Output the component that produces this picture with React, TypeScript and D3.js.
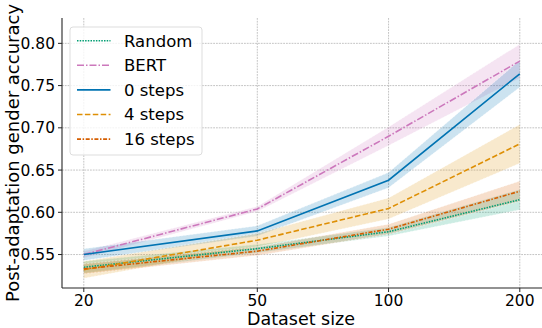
import React from "react";
import * as d3 from "d3";

const sizes = [20, 50, 100, 200];
const seriesNames = ["Random", "BERT", "0 steps", "4 steps", "16 steps"];
const randomMean = [0.535, 0.557, 0.577, 0.615];
const randomLo = [0.528, 0.552, 0.572, 0.603];
const randomHi = [0.542, 0.562, 0.582, 0.627];
const bertMean = [0.55, 0.604, 0.69, 0.779];
const bertLo = [0.546, 0.601, 0.679, 0.759];
const bertHi = [0.554, 0.607, 0.701, 0.799];
const step0Mean = [0.55, 0.578, 0.638, 0.764];
const step0Lo = [0.543, 0.572, 0.629, 0.748];
const step0Hi = [0.557, 0.584, 0.647, 0.78];
const step4Mean = [0.532, 0.567, 0.6045, 0.681];
const step4Lo = [0.522, 0.559, 0.592, 0.658];
const step4Hi = [0.542, 0.575, 0.617, 0.704];
const step16Mean = [0.533, 0.554, 0.58, 0.625];
const step16Lo = [0.527, 0.549, 0.574, 0.613];
const step16Hi = [0.539, 0.559, 0.586, 0.637];
const xTicks = [20, 50, 100, 200];
const yTicks = [0.55, 0.6, 0.65, 0.7, 0.75, 0.8];

const colors = ["#029e73", "#cc78bc", "#0173b2", "#de8f05", "#d55e00"];
const dashes = ["1.5,1.2", "7,2,1.5,2", "", "5.5,2.4", "4,1.6,1.5,1.6"];

const W = 542, H = 328;
const left = 62, top = 18, bottom = 288;
const x = d3.scaleLog().domain([Math.pow(10, Math.log10(20) - 0.05), Math.pow(10, Math.log10(200) + 0.05)]).range([left, 541.6]);
const y = d3.scaleLinear().domain([0.5104, 0.83]).range([bottom, top]);

export default function App() {
  const series = [
    { mean: randomMean, lo: randomLo, hi: randomHi },
    { mean: bertMean, lo: bertLo, hi: bertHi },
    { mean: step0Mean, lo: step0Lo, hi: step0Hi },
    { mean: step4Mean, lo: step4Lo, hi: step4Hi },
    { mean: step16Mean, lo: step16Lo, hi: step16Hi },
  ];
  const line = d3.line<number>().x((_, i) => x(sizes[i])).y((d) => y(d));
  const font = "DejaVu Sans, sans-serif";
  return (
    <svg width={W} height={H} style={{ position: "absolute", left: 0, top: 0 }} fontFamily={font}>
      <rect width={W} height={H} fill="#fff" />
      {/* grid */}
      {xTicks.map((t) => (
        <line key={"gx" + t} x1={x(t)} x2={x(t)} y1={top} y2={bottom} stroke="#bdbdbd" strokeWidth={0.9} strokeDasharray="1.8,1" />
      ))}
      {yTicks.map((t) => (
        <line key={"gy" + t} x1={left} x2={W} y1={y(t)} y2={y(t)} stroke="#bdbdbd" strokeWidth={0.9} strokeDasharray="1.8,1" />
      ))}
      {/* bands */}
      {series.map((s, k) => {
        const area = d3.area<number>().x((_, i) => x(sizes[i])).y0((_, i) => y(s.lo[i])).y1((_, i) => y(s.hi[i]));
        return (
          <g key={"b" + k}>
            <path d={area(s.mean) || ""} fill={colors[k]} fillOpacity={0.2} stroke="none" />
            <path d={line(s.lo) || ""} fill="none" stroke="#fff" strokeOpacity={0.6} strokeWidth={0.8} strokeDasharray="2,1.5" />
            <path d={line(s.hi) || ""} fill="none" stroke="#fff" strokeOpacity={0.6} strokeWidth={0.8} strokeDasharray="2,1.5" />
          </g>
        );
      })}
      {series.map((s, k) => (
        <path key={"l" + k} d={line(s.mean) || ""} fill="none" stroke={colors[k]} strokeWidth={1.6} strokeDasharray={dashes[k] || undefined} />
      ))}
      {/* spines */}
      <line x1={left} x2={left} y1={top} y2={bottom} stroke="#262626" strokeWidth={1.1} />
      <line x1={left} x2={W} y1={bottom} y2={bottom} stroke="#262626" strokeWidth={1.1} />
      {/* ticks */}
      {xTicks.map((t) => (
        <g key={"tx" + t}>
          <line x1={x(t)} x2={x(t)} y1={bottom} y2={bottom + 4} stroke="#262626" />
          <text x={x(t)} y={bottom + 18} textAnchor="middle" fontSize={15.5} fill="#000">{t}</text>
        </g>
      ))}
      {yTicks.map((t) => (
        <g key={"ty" + t}>
          <line x1={left - 4} x2={left} y1={y(t)} y2={y(t)} stroke="#262626" />
          <text x={left - 7} y={y(t)} dy="0.36em" textAnchor="end" fontSize={15.5} fill="#000">{t.toFixed(2)}</text>
        </g>
      ))}
      <text x={301} y={325} textAnchor="middle" fontSize={17.5} fill="#000">Dataset size</text>
      <text transform={`translate(19,${(top + bottom) / 2}) rotate(-90)`} textAnchor="middle" fontSize={18} fill="#000">Post-adaptation gender accuracy</text>
      {/* legend */}
      <rect x={70} y={27} width={132} height={128} rx={3} fill="#fff" fillOpacity={0.8} stroke="#dddddd" strokeWidth={1} />
      {seriesNames.map((n, k) => {
        const cy = 40.7 + k * 24.6;
        return (
          <g key={"lg" + k}>
            <line x1={77} x2={110.5} y1={cy} y2={cy} stroke={colors[k]} strokeWidth={1.6} strokeDasharray={dashes[k] || undefined} />
            <text x={124} y={cy} dy="0.36em" fontSize={16.5} fill="#000">{n}</text>
          </g>
        );
      })}
    </svg>
  );
}
